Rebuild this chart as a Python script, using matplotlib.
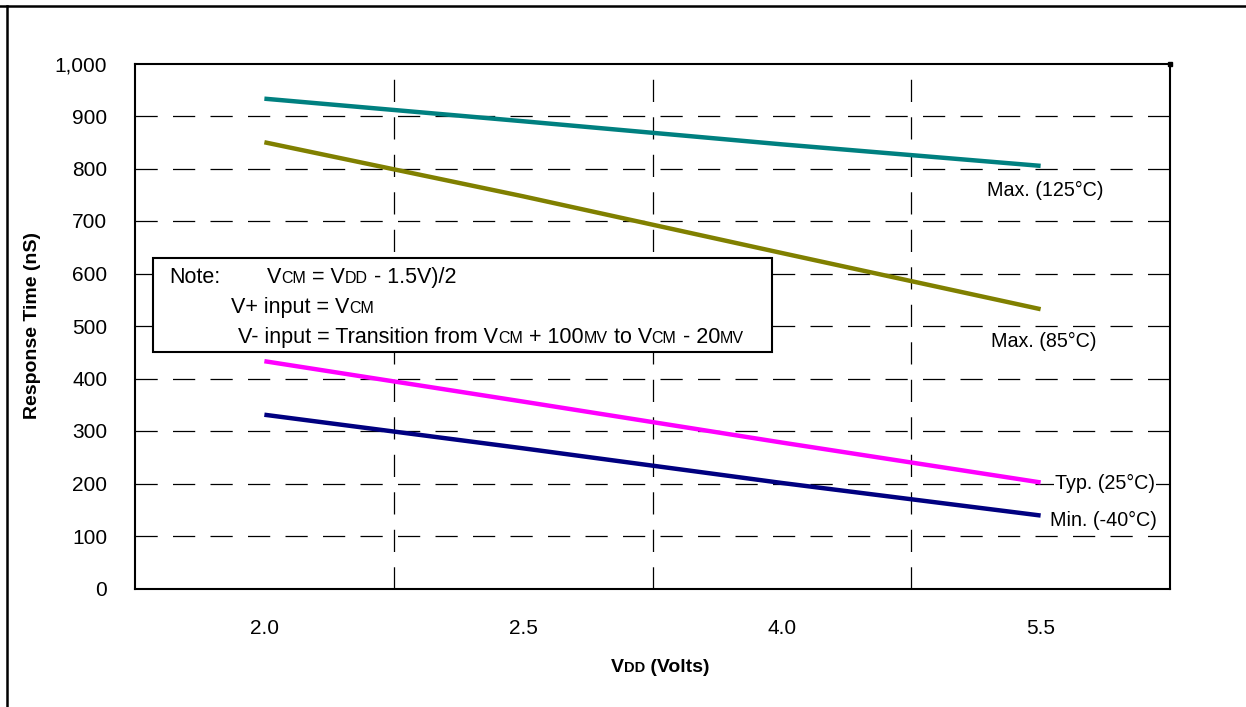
import matplotlib
matplotlib.use("Agg")
import matplotlib.pyplot as plt
from matplotlib.patches import Rectangle
from matplotlib.lines import Line2D

plt.rcParams['font.family'] = ['Liberation Sans', 'DejaVu Sans']
plt.rcParams['lines.scale_dashes'] = False

# ---- data ----
categories = ['2.0', '2.5', '4.0', '5.5']
max125 = [933, 890, 846, 805]
max85 = [850, 747, 639, 532]
typ25 = [433, 356, 278, 202]
min40 = [331, 267, 201, 139]
series_labels = ['Max. (125°C)', 'Max. (85°C)', 'Typ. (25°C)', 'Min. (-40°C)']
y_ticks = [0, 100, 200, 300, 400, 500, 600, 700, 800, 900, 1000]

W, H = 1246, 707
DPI = 100
fig = plt.figure(figsize=(W / DPI, H / DPI), dpi=DPI)
fig.patch.set_facecolor('white')

def fx(px):
    return px / W

def fy(py):
    return 1 - py / H

# page border (top and left)
fig.add_artist(Line2D([fx(0), fx(W)], [fy(6), fy(6)], color='black', lw=1.8))
fig.add_artist(Line2D([fx(7), fx(7)], [fy(6), fy(H)], color='black', lw=1.8))

L, R, T, B = 135, 1170, 63.5, 588.5
ax = fig.add_axes([fx(L), fy(B), (R - L) / W, (B - T) / H])
xs = list(range(len(categories)))
ax.set_xlim(-0.5, len(categories) - 0.5)
ax.set_ylim(0, 1000)

for sp in ax.spines.values():
    sp.set_linewidth(1.5)
    sp.set_color('black')

# gridlines
for v in y_ticks[1:-1]:
    ax.axhline(v, color='black', lw=0.9, linestyle=(0, (16, 11)), zorder=1)
for xv in [0.5, 1.5, 2.5]:
    ax.axvline(xv, color='black', lw=0.9, linestyle=(0, (16, 11)), zorder=1)

# small corner mark at top-right
ax.plot([1], [1], marker='s', markersize=3, color='black', transform=ax.transAxes,
        clip_on=False, zorder=6)

ax.set_yticks(y_ticks)
ax.set_yticklabels([f'{v:,}' for v in y_ticks])
ax.set_xticks(xs)
ax.set_xticklabels(categories)
ax.tick_params(axis='both', length=0, labelsize=15)
ax.tick_params(axis='y', pad=20)
ax.tick_params(axis='x', pad=22)

colors = ['#008080', '#808000', '#FF00FF', '#000080']
for vals, c in zip([max125, max85, typ25, min40], colors):
    ax.plot(xs, vals, color=c, lw=3.2, solid_capstyle='butt', zorder=4)

# series labels
label_pos = [(2.792, 759), (2.81, 471), (3.056, 201), (3.036, 130)]
for txt, (lx, ly) in zip(series_labels, label_pos):
    ax.text(lx, ly, txt, fontsize=14.2, ha='left', va='center', zorder=5,
            bbox=dict(facecolor='white', edgecolor='none', pad=0.5))

# note box
ax.add_patch(Rectangle((-0.43, 451), 2.39, 179, facecolor='white', edgecolor='black',
                       lw=1.5, zorder=3))

fig.canvas.draw()
renderer = fig.canvas.get_renderer()

def runs(x_px, base_px, pieces, ha='left', weight='normal'):
    arts = []
    widths = []
    for s, size in pieces:
        t = fig.text(0, 0, s, fontsize=size, fontweight=weight, va='baseline', ha='left', zorder=6)
        bb = t.get_window_extent(renderer)
        widths.append(bb.width)
        arts.append(t)
    total = sum(widths)
    x = x_px - (total / 2 if ha == 'center' else 0)
    for t, w in zip(arts, widths):
        t.set_position((fx(x), fy(base_px)))
        x += w

BIG, SMALL = 15.5, 11.5
runs(169, 283, [('Note:', BIG)])
runs(267, 283, [('V', BIG), ('CM', SMALL), (' = V', BIG), ('DD', SMALL), (' - 1.5V)/2', BIG)])
runs(231, 313, [('V+ input = V', BIG), ('CM', SMALL)])
runs(238, 343, [('V- input = Transition from V', BIG), ('CM', SMALL), (' + 100', BIG),
                ('MV', SMALL), (' to V', BIG), ('CM', SMALL), (' - 20', BIG), ('MV', SMALL)])

# axis labels
runs(660, 672, [('V', 14), ('DD', 10.5), (' (Volts)', 14)], ha='center', weight='bold')
fig.text(fx(33), fy(326), 'Response Time (nS)', rotation=90, fontsize=14,
         fontweight='bold', ha='center', va='center')

fig.savefig('out.png', dpi=DPI, facecolor='white')
